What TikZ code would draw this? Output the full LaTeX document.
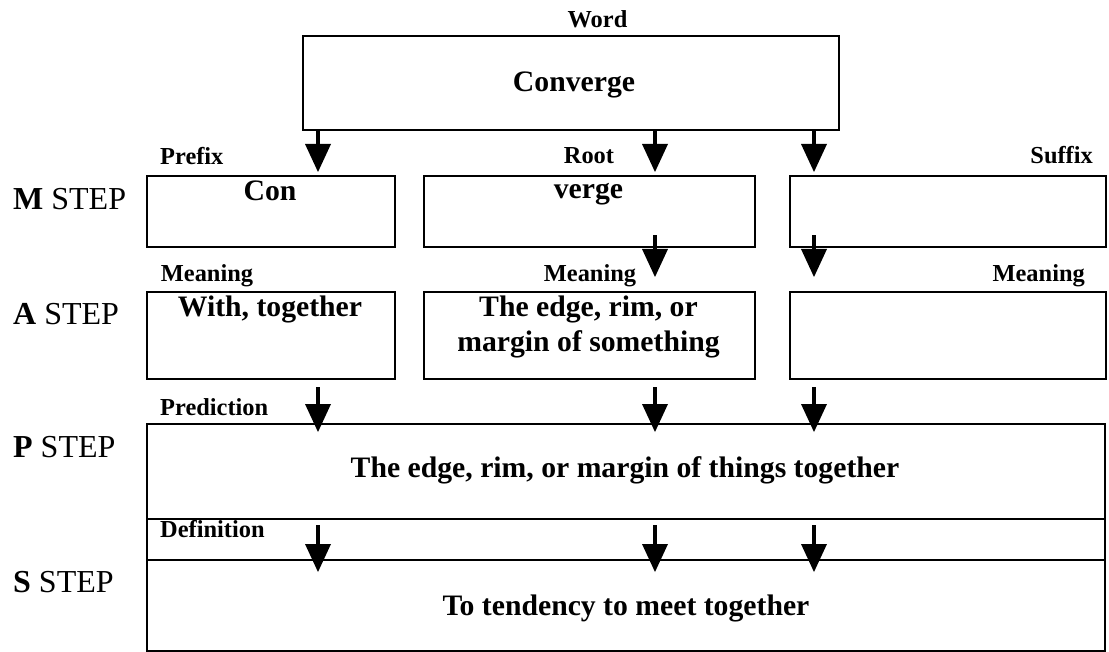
\documentclass[tikz,border=0pt]{standalone}
\usepackage{fontspec}
\setmainfont{Liberation Serif}
\usetikzlibrary{arrows.meta,calc}
\begin{document}
\begin{tikzpicture}[x=1pt,y=1pt,
  box/.style={draw, line width=2.2pt, inner sep=0pt, anchor=north west},
  big/.style={font=\bfseries\fontsize{29.7}{35}\selectfont, inner sep=0pt},
  lbl/.style={font=\bfseries\fontsize{24.4}{28}\selectfont, inner sep=0pt},
  steplbl/.style={font=\fontsize{32}{36}\selectfont, inner sep=0pt, anchor=base west},
  arr/.style={line width=4pt, -{Triangle[width=26pt,length=28pt,line width=0pt]}}]
\useasboundingbox (0,0) rectangle (1109,-652);
% boxes
\node[box, minimum width=536, minimum height=94] (word) at (302,-35) {};
\node[box, minimum width=248, minimum height=71] (m1) at (146,-175) {};
\node[box, minimum width=331, minimum height=71] (m2) at (423,-175) {};
\node[box, minimum width=316, minimum height=71] (m3) at (789,-175) {};
\node[box, minimum width=248, minimum height=87] (a1) at (146,-291) {};
\node[box, minimum width=331, minimum height=87] (a2) at (423,-291) {};
\node[box, minimum width=316, minimum height=87] (a3) at (789,-291) {};
\node[box, minimum width=958, minimum height=95] (p) at (146,-423) {};
\node[box, minimum width=958, minimum height=41] (d) at (146,-518) {};
\node[box, minimum width=958, minimum height=91] (s) at (146,-559) {};
% column coordinates
\coordinate (x1) at (318,0);
\coordinate (x2) at (655,0);
\coordinate (x3) at (814,0);
% texts
\node[lbl, anchor=base] (wordlbl) at (597.5,-28) {Word};
\node[big, anchor=base] (conv) at (574,-92) {Converge};
\node[lbl, anchor=base west] (prefix) at (160,-165) {Prefix};
\node[lbl, anchor=base] (root) at (589,-163.5) {Root};
\node[lbl, anchor=base east] (suffix) at (1093,-164) {Suffix};
\node[big, anchor=base] (con) at (270,-201) {Con};
\node[big, anchor=base] (verge) at (588.5,-199) {verge};
\node[lbl, anchor=base west] (mean1) at (160.7,-282) {Meaning};
\node[lbl, anchor=base] (mean2) at (590,-282) {Meaning};
\node[lbl, anchor=base east] (mean3) at (1085,-282) {Meaning};
\node[big, anchor=base] (with) at (270,-316.7) {With, together};
\node[big, align=center, anchor=base] (edge) at (588.5,-351.7) {The edge, rim, or\\margin of something};
\node[lbl, anchor=base west] (pred) at (160,-415) {Prediction};
\node[lbl, anchor=base west] (defn) at (160,-537) {Definition};
\node[big, anchor=base] (ptxt) at (625,-477) {The edge, rim, or margin of things together};
\node[big, anchor=base] (stxt) at (626,-615) {To tendency to meet together};
% step labels
\node[steplbl] (ms) at (13,-210) {\textbf{M} STEP};
\node[steplbl] (as) at (13,-325) {\textbf{A} STEP};
\node[steplbl] (ps) at (13,-457) {\textbf{P} STEP};
\node[steplbl] (ss) at (13,-592) {\textbf{S} STEP};
% arrows
\foreach \c in {x1,x2,x3}{
  \draw[arr] (word.south -| \c) -- ($(m1.north -| \c)+(0,3)$);
  \draw[arr] ($(a1.south -| \c)+(0,-7)$) -- ($(p.north -| \c)+(0,-9)$);
  \draw[arr] ($(d.north -| \c)+(0,-7)$) -- ($(s.north -| \c)+(0,-13)$);
}
\foreach \c in {x2,x3}{
  \draw[arr] ($(m1.south -| \c)+(0,13)$) -- ($(a1.north -| \c)+(0,14)$);
}
\end{tikzpicture}
\end{document}
